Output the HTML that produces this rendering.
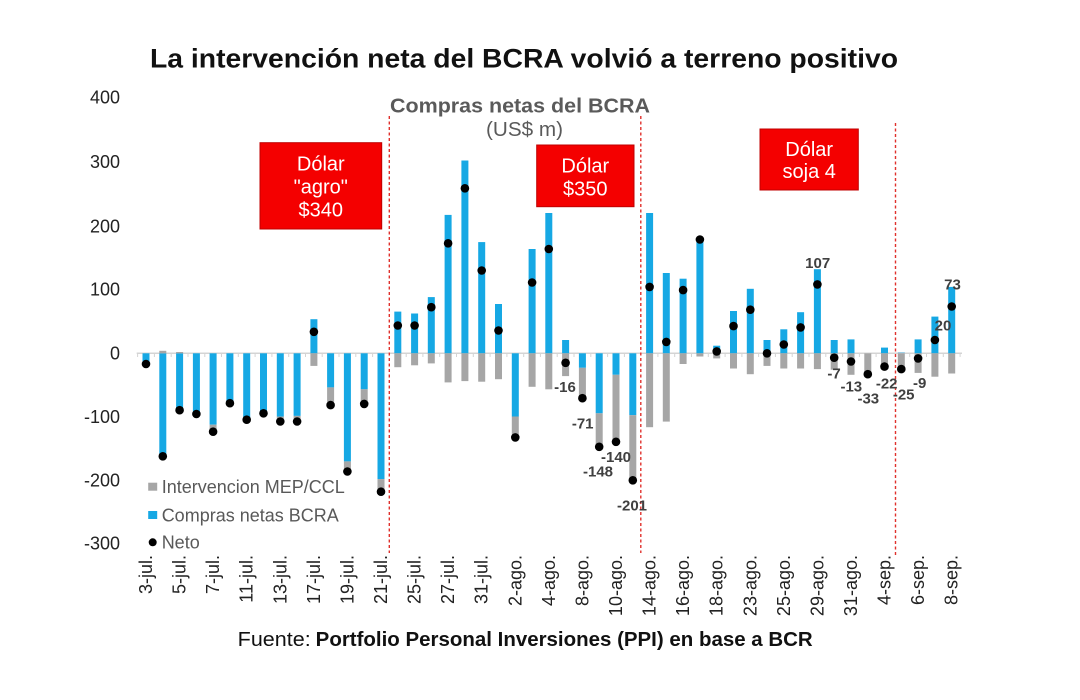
<!DOCTYPE html>
<html>
<head>
<meta charset="utf-8">
<style>
  html, body { margin: 0; padding: 0; background: #ffffff; }
  svg { display: block; }
  text { font-family: "Liberation Sans", Arial, sans-serif; }
</style>
</head>
<body>
<svg width="1080" height="700" viewBox="0 0 1080 700" xmlns="http://www.w3.org/2000/svg">
  <rect x="0" y="0" width="1080" height="700" fill="#ffffff"/>

  <!-- Title -->
  <text x="150" y="67.3" font-size="27" font-weight="bold" fill="#111111" textLength="748" lengthAdjust="spacingAndGlyphs">La intervención neta del BCRA volvió a terreno positivo</text>

  <!-- Subtitle -->
  <text x="390" y="112.7" font-size="20" font-weight="bold" fill="#5a5a5a" textLength="260" lengthAdjust="spacingAndGlyphs">Compras netas del BCRA</text>
  <text x="486" y="136" font-size="20" fill="#5a5a5a" textLength="77" lengthAdjust="spacingAndGlyphs">(US$ m)</text>

  <!-- Y axis labels -->
  <g font-size="18" fill="#222222" text-anchor="end">
    <text x="120" y="103.6">400</text>
    <text x="120" y="168">300</text>
    <text x="120" y="232.3">200</text>
    <text x="120" y="295.6">100</text>
    <text x="120" y="359.6">0</text>
    <text x="120" y="423">-100</text>
    <text x="120" y="486.3">-200</text>
    <text x="120" y="549.6">-300</text>
  </g>

  <!-- Zero axis line with ticks -->
  <line x1="136.7" y1="353.3" x2="962" y2="353.3" stroke="#d4d4d4" stroke-width="1.5"/>
  <g stroke="#d4d4d4" stroke-width="1">
    <line x1="137.6" y1="353.3" x2="137.6" y2="357"/>
    <line x1="154.4" y1="353.3" x2="154.4" y2="357"/>
    <line x1="171.2" y1="353.3" x2="171.2" y2="357"/>
    <line x1="188.0" y1="353.3" x2="188.0" y2="357"/>
    <line x1="204.8" y1="353.3" x2="204.8" y2="357"/>
    <line x1="221.5" y1="353.3" x2="221.5" y2="357"/>
    <line x1="238.3" y1="353.3" x2="238.3" y2="357"/>
    <line x1="255.1" y1="353.3" x2="255.1" y2="357"/>
    <line x1="271.9" y1="353.3" x2="271.9" y2="357"/>
    <line x1="288.7" y1="353.3" x2="288.7" y2="357"/>
    <line x1="305.5" y1="353.3" x2="305.5" y2="357"/>
    <line x1="322.2" y1="353.3" x2="322.2" y2="357"/>
    <line x1="339.0" y1="353.3" x2="339.0" y2="357"/>
    <line x1="355.8" y1="353.3" x2="355.8" y2="357"/>
    <line x1="372.6" y1="353.3" x2="372.6" y2="357"/>
    <line x1="406.2" y1="353.3" x2="406.2" y2="357"/>
    <line x1="422.9" y1="353.3" x2="422.9" y2="357"/>
    <line x1="439.7" y1="353.3" x2="439.7" y2="357"/>
    <line x1="456.5" y1="353.3" x2="456.5" y2="357"/>
    <line x1="473.3" y1="353.3" x2="473.3" y2="357"/>
    <line x1="490.1" y1="353.3" x2="490.1" y2="357"/>
    <line x1="506.9" y1="353.3" x2="506.9" y2="357"/>
    <line x1="523.7" y1="353.3" x2="523.7" y2="357"/>
    <line x1="540.4" y1="353.3" x2="540.4" y2="357"/>
    <line x1="557.2" y1="353.3" x2="557.2" y2="357"/>
    <line x1="574.0" y1="353.3" x2="574.0" y2="357"/>
    <line x1="590.8" y1="353.3" x2="590.8" y2="357"/>
    <line x1="607.6" y1="353.3" x2="607.6" y2="357"/>
    <line x1="624.4" y1="353.3" x2="624.4" y2="357"/>
    <line x1="657.9" y1="353.3" x2="657.9" y2="357"/>
    <line x1="674.7" y1="353.3" x2="674.7" y2="357"/>
    <line x1="691.5" y1="353.3" x2="691.5" y2="357"/>
    <line x1="708.3" y1="353.3" x2="708.3" y2="357"/>
    <line x1="725.1" y1="353.3" x2="725.1" y2="357"/>
    <line x1="741.9" y1="353.3" x2="741.9" y2="357"/>
    <line x1="758.6" y1="353.3" x2="758.6" y2="357"/>
    <line x1="775.4" y1="353.3" x2="775.4" y2="357"/>
    <line x1="792.2" y1="353.3" x2="792.2" y2="357"/>
    <line x1="809.0" y1="353.3" x2="809.0" y2="357"/>
    <line x1="825.8" y1="353.3" x2="825.8" y2="357"/>
    <line x1="842.6" y1="353.3" x2="842.6" y2="357"/>
    <line x1="859.4" y1="353.3" x2="859.4" y2="357"/>
    <line x1="876.1" y1="353.3" x2="876.1" y2="357"/>
    <line x1="909.7" y1="353.3" x2="909.7" y2="357"/>
    <line x1="926.5" y1="353.3" x2="926.5" y2="357"/>
    <line x1="943.3" y1="353.3" x2="943.3" y2="357"/>
    <line x1="960.1" y1="353.3" x2="960.1" y2="357"/>
  </g>

  <!-- Blue bars (Compras netas BCRA) -->
  <g fill="#16a8e4">
    <rect x="142.5" y="353.3" width="7" height="9.5"/>
    <rect x="159.3" y="353.3" width="7" height="104.9"/>
    <rect x="176.1" y="353.3" width="7" height="58.1"/>
    <rect x="192.9" y="353.3" width="7" height="60.0"/>
    <rect x="209.6" y="353.3" width="7" height="71.4"/>
    <rect x="226.4" y="353.3" width="7" height="48.0"/>
    <rect x="243.2" y="353.3" width="7" height="65.1"/>
    <rect x="260.0" y="353.3" width="7" height="58.8"/>
    <rect x="276.8" y="353.3" width="7" height="63.2"/>
    <rect x="293.6" y="353.3" width="7" height="62.6"/>
    <rect x="310.4" y="319.2" width="7" height="34.1"/>
    <rect x="327.1" y="353.3" width="7" height="34.1"/>
    <rect x="343.9" y="353.3" width="7" height="108.1"/>
    <rect x="360.7" y="353.3" width="7" height="36.0"/>
    <rect x="377.5" y="353.3" width="7" height="125.8"/>
    <rect x="394.3" y="311.6" width="7" height="41.7"/>
    <rect x="411.1" y="313.5" width="7" height="39.8"/>
    <rect x="427.8" y="297.1" width="7" height="56.2"/>
    <rect x="444.6" y="214.9" width="7" height="138.4"/>
    <rect x="461.4" y="160.5" width="7" height="192.8"/>
    <rect x="478.2" y="242.1" width="7" height="111.2"/>
    <rect x="495.0" y="304.0" width="7" height="49.3"/>
    <rect x="511.8" y="353.3" width="7" height="63.2"/>
    <rect x="528.6" y="249.0" width="7" height="104.3"/>
    <rect x="545.3" y="213.0" width="7" height="140.3"/>
    <rect x="562.1" y="340.0" width="7" height="13.3"/>
    <rect x="578.9" y="353.3" width="7" height="14.5"/>
    <rect x="595.7" y="353.3" width="7" height="60.0"/>
    <rect x="612.5" y="353.3" width="7" height="21.5"/>
    <rect x="629.3" y="353.3" width="7" height="61.9"/>
    <rect x="646.1" y="213.0" width="7" height="140.3"/>
    <rect x="662.8" y="273.0" width="7" height="80.3"/>
    <rect x="679.6" y="278.7" width="7" height="74.6"/>
    <rect x="696.4" y="238.3" width="7" height="115.0"/>
    <rect x="713.2" y="345.7" width="7" height="7.6"/>
    <rect x="730.0" y="311.0" width="7" height="42.3"/>
    <rect x="746.8" y="288.8" width="7" height="64.5"/>
    <rect x="763.5" y="340.0" width="7" height="13.3"/>
    <rect x="780.3" y="329.3" width="7" height="24.0"/>
    <rect x="797.1" y="312.2" width="7" height="41.1"/>
    <rect x="813.9" y="269.2" width="7" height="84.1"/>
    <rect x="830.7" y="340.0" width="7" height="13.3"/>
    <rect x="847.5" y="339.4" width="7" height="13.9"/>
    <rect x="881.0" y="347.6" width="7" height="5.7"/>
    <rect x="897.8" y="352.0" width="7" height="1.3" fill="#9fcfe6"/>
    <rect x="914.6" y="339.4" width="7" height="13.9"/>
    <rect x="931.4" y="316.6" width="7" height="36.7"/>
    <rect x="948.2" y="286.9" width="7" height="66.4"/>
  </g>

  <!-- Gray bars (Intervencion MEP/CCL) -->
  <g fill="#a6a6a6">
    <rect x="142.5" y="362.8" width="7" height="1.3"/>
    <rect x="159.3" y="350.8" width="7" height="2.5"/>
    <rect x="176.1" y="352.0" width="7" height="1.3"/>
    <rect x="192.9" y="413.3" width="7" height="0.8"/>
    <rect x="209.6" y="424.7" width="7" height="5.7"/>
    <rect x="226.4" y="401.3" width="7" height="1.3"/>
    <rect x="243.2" y="418.4" width="7" height="0.8"/>
    <rect x="260.0" y="412.1" width="7" height="0.8"/>
    <rect x="276.8" y="416.5" width="7" height="3.8"/>
    <rect x="293.6" y="415.9" width="7" height="4.4"/>
    <rect x="310.4" y="353.3" width="7" height="12.6"/>
    <rect x="327.1" y="387.4" width="7" height="14.5"/>
    <rect x="343.9" y="461.4" width="7" height="8.2"/>
    <rect x="360.7" y="389.3" width="7" height="13.3"/>
    <rect x="377.5" y="479.1" width="7" height="9.5"/>
    <rect x="394.3" y="353.3" width="7" height="13.9"/>
    <rect x="411.1" y="353.3" width="7" height="12.0"/>
    <rect x="427.8" y="353.3" width="7" height="10.1"/>
    <rect x="444.6" y="353.3" width="7" height="29.1"/>
    <rect x="461.4" y="353.3" width="7" height="27.8"/>
    <rect x="478.2" y="353.3" width="7" height="28.4"/>
    <rect x="495.0" y="353.3" width="7" height="25.9"/>
    <rect x="511.8" y="416.5" width="7" height="20.2"/>
    <rect x="528.6" y="353.3" width="7" height="33.5"/>
    <rect x="545.3" y="353.3" width="7" height="36.0"/>
    <rect x="562.1" y="353.3" width="7" height="22.8"/>
    <rect x="578.9" y="367.8" width="7" height="30.3"/>
    <rect x="595.7" y="413.3" width="7" height="33.5"/>
    <rect x="612.5" y="374.8" width="7" height="67.0"/>
    <rect x="629.3" y="415.2" width="7" height="65.1"/>
    <rect x="646.1" y="353.3" width="7" height="73.9"/>
    <rect x="662.8" y="353.3" width="7" height="68.3"/>
    <rect x="679.6" y="353.3" width="7" height="10.7"/>
    <rect x="696.4" y="353.3" width="7" height="3.2"/>
    <rect x="713.2" y="353.3" width="7" height="5.1"/>
    <rect x="730.0" y="353.3" width="7" height="15.2"/>
    <rect x="746.8" y="353.3" width="7" height="20.9"/>
    <rect x="763.5" y="353.3" width="7" height="12.6"/>
    <rect x="780.3" y="353.3" width="7" height="15.2"/>
    <rect x="797.1" y="353.3" width="7" height="15.2"/>
    <rect x="813.9" y="353.3" width="7" height="15.8"/>
    <rect x="830.7" y="353.3" width="7" height="16.4"/>
    <rect x="847.5" y="353.3" width="7" height="21.5"/>
    <rect x="864.3" y="353.3" width="7" height="20.9"/>
    <rect x="881.0" y="353.3" width="7" height="15.8"/>
    <rect x="897.8" y="353.3" width="7" height="13.9"/>
    <rect x="914.6" y="353.3" width="7" height="19.6"/>
    <rect x="931.4" y="353.3" width="7" height="23.4"/>
    <rect x="948.2" y="353.3" width="7" height="20.2"/>
  </g>

  <!-- Red dashed separators -->
  <g stroke="#e0302c" stroke-width="1.4" stroke-dasharray="3 2.5" fill="none">
    <line x1="389.3" y1="116" x2="389.3" y2="553"/>
    <line x1="640.8" y1="116" x2="640.8" y2="553"/>
    <line x1="895.5" y1="123" x2="895.5" y2="556"/>
  </g>

  <!-- Neto dots -->
  <g fill="#000000">
    <circle cx="146.0" cy="364.0" r="4.3"/>
    <circle cx="162.8" cy="456.3" r="4.3"/>
    <circle cx="179.6" cy="410.2" r="4.3"/>
    <circle cx="196.4" cy="414.0" r="4.3"/>
    <circle cx="213.1" cy="431.7" r="4.3"/>
    <circle cx="229.9" cy="403.2" r="4.3"/>
    <circle cx="246.7" cy="419.7" r="4.3"/>
    <circle cx="263.5" cy="413.3" r="4.3"/>
    <circle cx="280.3" cy="421.5" r="4.3"/>
    <circle cx="297.1" cy="421.5" r="4.3"/>
    <circle cx="313.9" cy="331.8" r="4.3"/>
    <circle cx="330.6" cy="405.1" r="4.3"/>
    <circle cx="347.4" cy="471.5" r="4.3"/>
    <circle cx="364.2" cy="403.9" r="4.3"/>
    <circle cx="381.0" cy="491.7" r="4.3"/>
    <circle cx="397.8" cy="325.5" r="4.3"/>
    <circle cx="414.6" cy="325.5" r="4.3"/>
    <circle cx="431.3" cy="307.2" r="4.3"/>
    <circle cx="448.1" cy="243.3" r="4.3"/>
    <circle cx="464.9" cy="188.3" r="4.3"/>
    <circle cx="481.7" cy="270.5" r="4.3"/>
    <circle cx="498.5" cy="330.5" r="4.3"/>
    <circle cx="515.3" cy="437.4" r="4.3"/>
    <circle cx="532.1" cy="282.5" r="4.3"/>
    <circle cx="548.8" cy="249.0" r="4.3"/>
    <circle cx="565.6" cy="362.8" r="4.3"/>
    <circle cx="582.4" cy="398.2" r="4.3"/>
    <circle cx="599.2" cy="446.8" r="4.3"/>
    <circle cx="616.0" cy="441.8" r="4.3"/>
    <circle cx="632.8" cy="480.3" r="4.3"/>
    <circle cx="649.6" cy="286.9" r="4.3"/>
    <circle cx="666.3" cy="341.9" r="4.3"/>
    <circle cx="683.1" cy="290.1" r="4.3"/>
    <circle cx="699.9" cy="239.5" r="4.3"/>
    <circle cx="716.7" cy="351.4" r="4.3"/>
    <circle cx="733.5" cy="326.1" r="4.3"/>
    <circle cx="750.3" cy="309.7" r="4.3"/>
    <circle cx="767.0" cy="353.3" r="4.3"/>
    <circle cx="783.8" cy="344.5" r="4.3"/>
    <circle cx="800.6" cy="327.4" r="4.3"/>
    <circle cx="817.4" cy="284.4" r="4.3"/>
    <circle cx="834.2" cy="357.7" r="4.3"/>
    <circle cx="851.0" cy="361.5" r="4.3"/>
    <circle cx="867.8" cy="374.2" r="4.3"/>
    <circle cx="884.5" cy="366.6" r="4.3"/>
    <circle cx="901.3" cy="369.1" r="4.3"/>
    <circle cx="918.1" cy="358.4" r="4.3"/>
    <circle cx="934.9" cy="340.0" r="4.3"/>
    <circle cx="951.7" cy="306.5" r="4.3"/>
  </g>

  <!-- Data labels -->
  <g font-size="15" font-weight="bold" fill="#404040" text-anchor="middle">
    <text x="565" y="392">-16</text>
    <text x="582.7" y="428.7">-71</text>
    <text x="598" y="476.4">-148</text>
    <text x="616" y="462">-140</text>
    <text x="632" y="510.4">-201</text>
    <text x="817.7" y="268">107</text>
    <text x="834" y="378.7">-7</text>
    <text x="851.3" y="391.4">-13</text>
    <text x="868.3" y="403.7">-33</text>
    <text x="886.7" y="388.7">-22</text>
    <text x="903.7" y="399.4">-25</text>
    <text x="919.7" y="388">-9</text>
    <text x="943" y="330.4">20</text>
    <text x="952.5" y="289.4">73</text>
  </g>

  <!-- Red annotation boxes -->
  <rect x="260" y="142.7" width="121.7" height="86.3" fill="#f40000" stroke="#c00000" stroke-width="1"/>
  <g font-size="20" fill="#ffffff" text-anchor="middle">
    <text x="320.8" y="170.7">Dólar</text>
    <text x="320.8" y="193.3">"agro"</text>
    <text x="320.8" y="216.7">$340</text>
  </g>
  <rect x="536.7" y="145" width="97.3" height="61.7" fill="#f40000" stroke="#c00000" stroke-width="1"/>
  <g font-size="20" fill="#ffffff" text-anchor="middle">
    <text x="585.3" y="172.7">Dólar</text>
    <text x="585.3" y="195.3">$350</text>
  </g>
  <rect x="760" y="129" width="98.3" height="61" fill="#f40000" stroke="#c00000" stroke-width="1"/>
  <g font-size="20" fill="#ffffff" text-anchor="middle">
    <text x="809.2" y="156">Dólar</text>
    <text x="809.2" y="178">soja 4</text>
  </g>

  <!-- Legend -->
  <rect x="148.2" y="482.7" width="9" height="8" fill="#a6a6a6"/>
  <rect x="148.2" y="511" width="9" height="8" fill="#16a8e4"/>
  <circle cx="152.7" cy="542.3" r="4"/>
  <g font-size="18" fill="#595959">
    <text x="161.7" y="493">Intervencion MEP/CCL</text>
    <text x="161.7" y="521.5">Compras netas BCRA</text>
    <text x="161.7" y="548.7">Neto</text>
  </g>

  <!-- X axis labels (rotated) -->
  <g font-size="18" fill="#222222" text-anchor="end">
    <text transform="translate(152,555) rotate(-90)">3-jul.</text>
    <text transform="translate(185.6,555) rotate(-90)">5-jul.</text>
    <text transform="translate(219.1,555) rotate(-90)">7-jul.</text>
    <text transform="translate(252.7,555) rotate(-90)">11-jul.</text>
    <text transform="translate(286.3,555) rotate(-90)">13-jul.</text>
    <text transform="translate(319.9,555) rotate(-90)">17-jul.</text>
    <text transform="translate(353.4,555) rotate(-90)">19-jul.</text>
    <text transform="translate(387,555) rotate(-90)">21-jul.</text>
    <text transform="translate(420.6,555) rotate(-90)">25-jul.</text>
    <text transform="translate(454.1,555) rotate(-90)">27-jul.</text>
    <text transform="translate(487.7,555) rotate(-90)">31-jul.</text>
    <text transform="translate(521.3,555) rotate(-90)">2-ago.</text>
    <text transform="translate(554.8,555) rotate(-90)">4-ago.</text>
    <text transform="translate(588.4,555) rotate(-90)">8-ago.</text>
    <text transform="translate(622,555) rotate(-90)">10-ago.</text>
    <text transform="translate(655.6,555) rotate(-90)">14-ago.</text>
    <text transform="translate(689.1,555) rotate(-90)">16-ago.</text>
    <text transform="translate(722.7,555) rotate(-90)">18-ago.</text>
    <text transform="translate(756.3,555) rotate(-90)">23-ago.</text>
    <text transform="translate(789.8,555) rotate(-90)">25-ago.</text>
    <text transform="translate(823.4,555) rotate(-90)">29-ago.</text>
    <text transform="translate(857,555) rotate(-90)">31-ago.</text>
    <text transform="translate(890.5,555) rotate(-90)">4-sep.</text>
    <text transform="translate(924.1,555) rotate(-90)">6-sep.</text>
    <text transform="translate(957.7,555) rotate(-90)">8-sep.</text>
  </g>

  <!-- Footer -->
  <text y="646" font-size="20" fill="#111111"><tspan x="237.7" textLength="73" lengthAdjust="spacingAndGlyphs">Fuente:</tspan><tspan x="315.7" font-weight="bold" textLength="497" lengthAdjust="spacingAndGlyphs">Portfolio Personal Inversiones (PPI) en base a BCR</tspan></text>
</svg>
</body>
</html>
